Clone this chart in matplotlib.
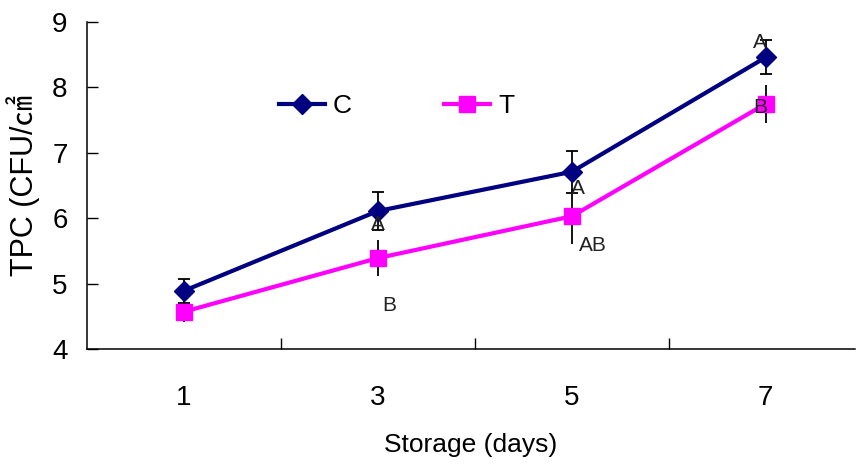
import numpy as np
import matplotlib.pyplot as plt

# datos
dias = ['1', '3', '5', '7']
control = [4.89, 6.11, 6.71, 8.46]
control_err = [0.18, 0.29, 0.32, 0.26]
tratado = [4.57, 5.39, 6.03, 7.75]
tratado_err = [0.16, 0.27, 0.42, 0.29]

# letras de significancia (texto, categoria, valor)
letras = ['A', 'B', 'A', 'AB', 'A', 'B']
letras_x = [1.0, 1.06, 2.03, 2.11, 2.97, 2.97]
letras_y = [5.90, 4.67, 6.46, 5.59, 8.69, 7.70]

fuente = ['Liberation Sans', 'Noto Sans CJK KR', 'DejaVu Sans']
plt.rcParams['font.family'] = fuente

fig = plt.figure(figsize=(8.57, 4.67), dpi=100)
ax = fig.add_axes([87 / 857, 118 / 467, 768 / 857, 327 / 467])

x = np.arange(len(dias))

ax.errorbar(x, control, yerr=control_err, fmt='none', ecolor='black',
            elinewidth=1.3, capsize=4.5, capthick=1.3, zorder=2)
ax.errorbar(x, tratado, yerr=tratado_err, fmt='none', ecolor='black',
            elinewidth=1.3, capsize=0, zorder=2)
ax.plot(x, control, color='#000080', lw=3, marker='D', markersize=10,
        label='C', zorder=3)
ax.plot(x, tratado, color='#FF00FF', lw=3, marker='s', markersize=12,
        label='T', zorder=3)

for t, lx, ly in zip(letras, letras_x, letras_y):
    ax.text(lx, ly, t, ha='center', va='center', fontsize=15, color='#222222', zorder=4)

ax.set_xlim(-0.5, 3.46)
ax.set_ylim(4, 9)
ax.set_xticks(x)
ax.set_xticklabels(dias)
ax.set_xticks([0.5, 1.5, 2.5], minor=True)
ax.tick_params(axis='x', which='major', length=0, pad=26, labelsize=20)
ax.tick_params(axis='x', which='minor', direction='in', length=8, width=1)
ax.set_yticks([4, 5, 6, 7, 8, 9])
ax.tick_params(axis='y', direction='in', length=8, width=1, pad=14, labelsize=20)

ax.spines['top'].set_visible(False)
ax.spines['right'].set_visible(False)
ax.spines['left'].set_linewidth(1.1)
ax.spines['bottom'].set_linewidth(1.1)

ax.set_xlabel('Storage (days)', fontsize=19, labelpad=16)
ax.set_ylabel('TPC (CFU/㎠', fontsize=22, labelpad=9)

ax.legend(loc='center', bbox_to_anchor=(0.403, 0.743), ncol=2, frameon=False,
          fontsize=19, handlelength=1.75, columnspacing=3.5, handletextpad=0.3)

fig.savefig('out.png', dpi=100)
